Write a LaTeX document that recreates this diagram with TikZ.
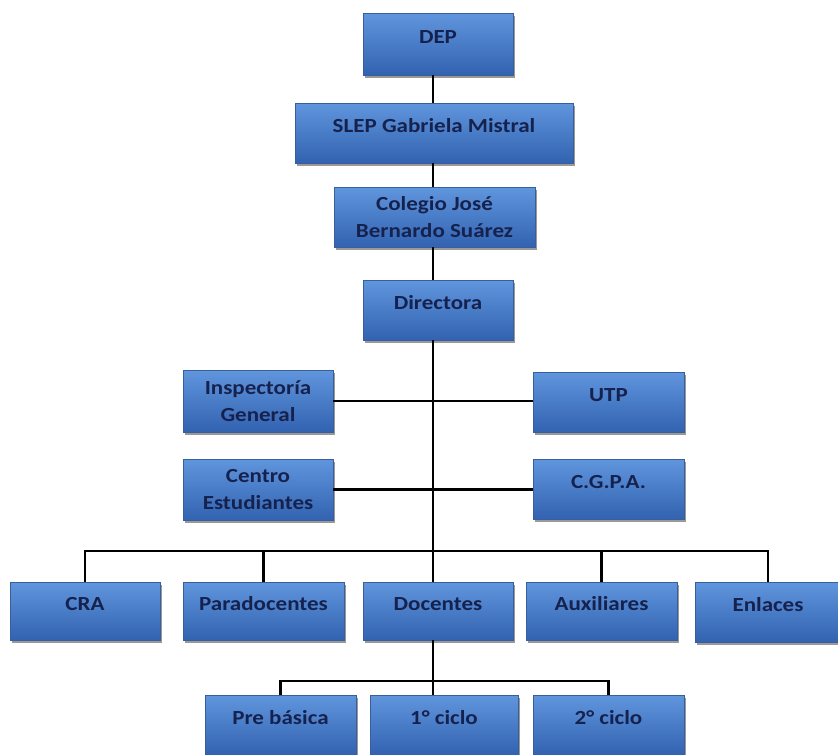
\documentclass[tikz,border=0pt]{standalone}
\usepackage{fontspec}
\setmainfont{Carlito}[FakeStretch=1.15]
\usetikzlibrary{shadows}
\definecolor{txt}{RGB}{22,34,78}
\definecolor{btop}{RGB}{96,150,222}
\definecolor{bbot}{RGB}{50,98,176}
\definecolor{bedge}{RGB}{56,94,156}
\begin{document}
\begin{tikzpicture}[x=1pt,y=-1pt,
  box/.style={rectangle, inner sep=0pt, top color=btop, bottom color=bbot,
    draw=bedge, line width=0.4pt,
    drop shadow={shadow xshift=2pt, shadow yshift=-2.5pt, fill=black, opacity=0.4},
    text=txt, font=\fontsize{20}{27}\selectfont\bfseries, align=center},
  sz/.style 2 args={minimum width=#1pt, minimum height=#2pt},
  one/.style={text height=12pt, text depth=13pt},
  wire/.style={line width=2.6pt, black}]
\useasboundingbox (0,0) rectangle (838,755);
\fill[white] (0,0) rectangle (838,755);

\node[box, one, sz={150}{62}] (dep)  at (438,44)   {DEP};
\node[box, one, sz={278}{60}] (slep) at (434,133)  {SLEP Gabriela Mistral};
\node[box, sz={201}{60}]      (col)  at (434.5,217){Colegio José\\Bernardo Suárez};
\node[box, one, sz={150}{60}] (dir)  at (438,310)  {Directora};
\node[box, sz={150}{62}]      (insp) at (258,401)  {Inspectoría\\General};
\node[box, one, sz={151}{60}] (utp)  at (608.5,402){UTP};
\node[box, sz={150}{61}]      (cen)  at (258,489.5){Centro\\Estudiantes};
\node[box, one, sz={151}{60}] (cgpa) at (608.5,489){C.G.P.A.};
\node[box, one, sz={150}{58}] (cra)  at (85,611)   {CRA};
\node[box, one, sz={161}{58}] (para) at (263.5,611){Paradocentes};
\node[box, one, sz={150}{58}] (doc)  at (438,611)  {Docentes};
\node[box, one, sz={151}{58}] (aux)  at (601.5,611){Auxiliares};
\node[box, one, sz={146}{60}] (enl)  at (768,612)  {Enlaces};
\node[box, one, sz={151}{60}] (pre)  at (280.5,725){Pre básica};
\node[box, one, sz={148}{60}] (c1)   at (444,725)  {1° ciclo};
\node[box, one, sz={151}{60}] (c2)   at (608.5,725){2° ciclo};

\coordinate (tx)  at (433,0);
\coordinate (bus) at (433,551);
\coordinate (sub) at (433,681);

\draw[wire] (dep.south -| tx) -- (slep.north -| tx);
\draw[wire] (slep.south -| tx) -- (col.north -| tx);
\draw[wire] (col.south -| tx) -- (dir.north -| tx);
\draw[wire] (dir.south -| tx) -- (doc.north -| tx);
\draw[wire] (insp.east) -- (insp.east -| utp.west);
\draw[wire] (cen.east) -- (cen.east -| cgpa.west);
\draw[wire] (cra.north) |- (bus) -| (enl.north);
\draw[wire] (para.north) -- (para.north |- bus);
\draw[wire] (aux.north) -- (aux.north |- bus);
\draw[wire] (doc.south -| tx) -- (sub);
\draw[wire] (pre.north) |- (sub) -| (c2.north);
\draw[wire] (sub) -- (c1.north -| tx);
\end{tikzpicture}
\end{document}
